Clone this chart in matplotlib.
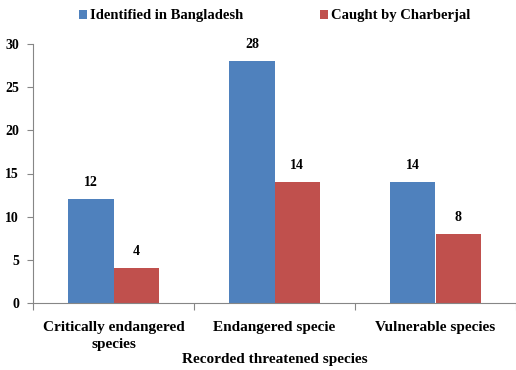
import numpy as np
import matplotlib
matplotlib.use('Agg')
from matplotlib import pyplot as plt

# data
categories = ['Critically endangered\nspecies', 'Endangered specie', 'Vulnerable species']
identified = [12, 28, 14]
caught = [4, 14, 8]
series_names = ['Identified in Bangladesh', 'Caught by Charberjal']
yticks = [0, 5, 10, 15, 20, 25, 30]

plt.rcParams['font.family'] = ['Liberation Serif', 'DejaVu Serif']
plt.rcParams['font.weight'] = 'bold'

fig = plt.figure(figsize=(5.16, 3.70), dpi=100)
ax = fig.add_axes([33 / 516, 67 / 370, 483 / 516, 259 / 370])

x = np.arange(len(categories))
w = 0.28
b1 = ax.bar(x - w / 2, identified, w, color='#4F81BD', label=series_names[0])
b2 = ax.bar(x + w / 2, caught, w, color='#C0504D', label=series_names[1])

for bars in (b1, b2):
    for r in bars:
        ax.text(r.get_x() + r.get_width() / 2, r.get_height() + 1.2, '%d' % r.get_height(),
                ha='center', va='bottom', fontsize=10, fontweight='bold')

ax.set_xlim(-0.5, 2.5)
ax.set_ylim(0, 30)
ax.set_yticks(yticks)
ax.set_xticks([-0.5, 0.5, 1.5, 2.5])
ax.set_xticklabels([])
ax.set_xticks(x, minor=True)
ax.set_xticklabels(categories, minor=True, fontsize=11, fontweight='bold', linespacing=1.35)
ax.tick_params(axis='x', which='minor', length=0, pad=13)
ax.tick_params(axis='x', which='major', length=5, color='#868686', direction='out')
ax.tick_params(axis='y', length=4, color='#868686', labelsize=10, pad=6)
for lab in ax.get_yticklabels():
    lab.set_fontweight('bold')

for s in ['top', 'right']:
    ax.spines[s].set_visible(False)
for s in ['left', 'bottom']:
    ax.spines[s].set_color('#868686')

ax.set_xlabel('Recorded threatened species', fontsize=11, fontweight='bold', labelpad=2)

fig.legend(handles=[b1, b2], labels=series_names, loc='upper center',
           bbox_to_anchor=(0.532, 1.01), ncol=2, frameon=False,
           handlelength=0.55, handleheight=0.55, handletextpad=0.2, columnspacing=5.3,
           prop={'weight': 'bold', 'size': 10.5})

fig.savefig('out.png', dpi=100)
